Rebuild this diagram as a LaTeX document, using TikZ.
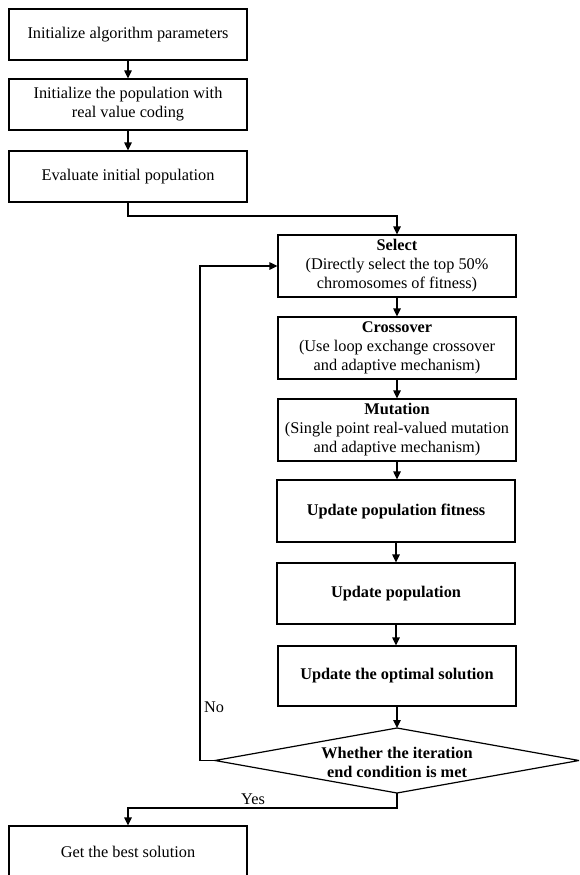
\documentclass[tikz,border=0pt]{standalone}
\usepackage{fontspec}
\setmainfont{Liberation Serif}
\usetikzlibrary{arrows.meta}
\begin{document}
\begin{tikzpicture}[x=1pt,y=-1pt,
  box/.style={draw, line width=1.2pt, minimum width=238pt, align=center, inner sep=0pt,
    font=\fontsize{16.3}{19}\selectfont},
  lbl/.style={inner sep=0pt, font=\fontsize{16.3}{19}\selectfont},
  arr/.style={-{Triangle[length=8pt,width=7.5pt]}, line width=1.2pt},
  ln/.style={line width=1.2pt}]
\useasboundingbox (0,0) rectangle (579,875);
\clip (0,0) rectangle (579,875);
% left column
\node[box, minimum height=51pt] (b1) at (128,34.5) {Initialize algorithm parameters};
\node[box, minimum height=51pt] (b2) at (128,104.5) {Initialize the population with\\real value coding};
\node[box, minimum height=51pt] (b3) at (128,176.5) {Evaluate initial population};
% right column
\node[box, minimum height=62pt] (sel) at (397,266) {\textbf{Select}\\(Directly select the top 50\%\\chromosomes of fitness)};
\node[box, minimum height=62pt] (cro) at (397,348) {\textbf{Crossover}\\(Use loop exchange crossover\\and adaptive mechanism)};
\node[box, minimum height=62pt] (mut) at (397,430) {\textbf{Mutation}\\(Single point real-valued mutation\\and adaptive mechanism)};
\node[box, minimum height=62pt, font=\fontsize{16.3}{19}\selectfont\bfseries] (fit) at (396,511) {Update population fitness};
\node[box, minimum height=61pt, font=\fontsize{16.3}{19}\selectfont\bfseries] (pop) at (396,593.5) {Update population};
\node[box, minimum height=60pt, font=\fontsize{16.3}{19}\selectfont\bfseries] (opt) at (397,676) {Update the optimal solution};
% decision
\coordinate (dt) at (397,728);
\coordinate (dl) at (215,760.5);
\coordinate (dr) at (579,760.5);
\coordinate (db) at (397,793);
\draw[ln, line join=miter] (dt) -- (dr) -- (db) -- (dl) -- cycle;
\node[lbl, align=center, font=\fontsize{16.3}{19}\selectfont\bfseries] (dec) at (397,762) {Whether the iteration\\end condition is met};
% final
\node[box, minimum height=51pt] (best) at (128,851.5) {Get the best solution};
% connectors
\draw[arr] (b1) -- (b2);
\draw[arr] (b2) -- (b3);
\coordinate (j1) at (128,216);
\draw[arr] (b3.south) -- (j1) -| (sel.north);
\draw[arr] (sel) -- (cro);
\draw[arr] (cro) -- (mut);
\draw[arr] (mut.south) -- (mut.south |- fit.north);
\draw[arr] (fit.south) -- (fit.south |- pop.north);
\draw[arr] (pop.south) -- (pop.south |- opt.north);
\draw[arr] (opt.south) -- (dt);
\coordinate (nocorner) at (200,760.5);
\draw[arr, line join=miter] (dl) -- (nocorner) |- (sel.west);
\coordinate (yescorner) at (397,808);
\draw[arr, line join=miter] (db) -- (yescorner) -| (best.north);
\node[lbl, anchor=west] (no) at (204,707) {No};
\node[lbl] (yes) at (253,799) {Yes};
\end{tikzpicture}
\end{document}
